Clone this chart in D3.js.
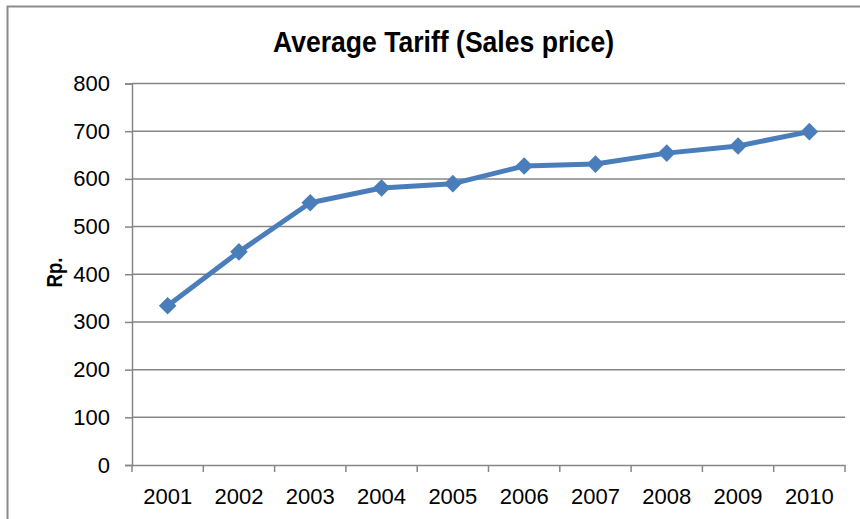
<!DOCTYPE html>
<html><head><meta charset="utf-8">
<script src="https://cdn.jsdelivr.net/npm/d3@7"></script>
<style>html,body{margin:0;padding:0;background:#fff;overflow:hidden}</style>
</head><body>
<svg id="chart" width="860" height="519"></svg>
<script>
const years = ["2001","2002","2003","2004","2005","2006","2007","2008","2009","2010"];
const tariff = [334, 447, 550, 581, 590, 627, 631, 654, 669, 699];
const yTicks = [0,100,200,300,400,500,600,700,800];
const titleText = "Average Tariff (Sales price)";
const yLabel = "Rp.";

const svg = d3.select("#chart");
const W = 860, H = 519;
const m = {left:132, right:15, top:83.5, bottom:54};
const x = d3.scaleBand().domain(years).range([m.left, W - m.right]);
const y = d3.scaleLinear().domain([0,800]).range([H - m.bottom, m.top]);
const font = "'Liberation Sans', Arial, sans-serif";
const gray = "#868686";

svg.append("rect").attr("x",7.5).attr("y",6.5).attr("width",1000).attr("height",1000)
  .attr("fill","none").attr("stroke","#8c8c8c").attr("stroke-width",2);

// gridlines
svg.append("g").selectAll("line").data(yTicks.filter(d=>d>0)).join("line")
  .attr("x1",m.left).attr("x2",W-m.right)
  .attr("y1",d=>y(d)).attr("y2",d=>y(d))
  .attr("stroke",gray).attr("stroke-width",1.5);

// y axis
const ya = svg.append("g").attr("transform",`translate(${m.left},0)`)
  .call(d3.axisLeft(y).tickValues(yTicks).tickSize(7).tickPadding(15));
ya.select(".domain").attr("stroke",gray).attr("stroke-width",1.5);
ya.selectAll(".tick line").attr("stroke",gray).attr("stroke-width",1.5);
ya.selectAll("text").attr("font-family",font).attr("font-size",22).attr("fill","#000");

// x axis
const xa = svg.append("g").attr("transform",`translate(0,${y(0)})`)
  .call(d3.axisBottom(x).tickSize(0).tickPadding(23));
xa.select(".domain").attr("stroke",gray).attr("stroke-width",1.5);
xa.selectAll(".tick line").remove();
xa.selectAll("text").attr("font-family",font).attr("font-size",22).attr("fill","#000");
// boundary tick marks
const bounds = years.map(d=>x(d)).concat([x(years[years.length-1])+x.bandwidth()]);
xa.selectAll("line.bt").data(bounds).join("line").attr("class","bt")
  .attr("x1",d=>d).attr("x2",d=>d).attr("y1",0).attr("y2",7)
  .attr("stroke",gray).attr("stroke-width",1.5);

// line
const cx = d => x(d) + x.bandwidth()/2;
const pts = years.map((d,i)=>[cx(d), y(tariff[i])]);
svg.append("path").attr("d",d3.line()(pts)).attr("fill","none")
  .attr("stroke","#4a7ebb").attr("stroke-width",5).attr("stroke-linejoin","round");
svg.append("g").selectAll("path").data(pts).join("path")
  .attr("d",d3.symbol(d3.symbolSquare, 155)())
  .attr("transform",p=>`translate(${p[0]},${p[1]}) rotate(45)`)
  .attr("fill","#4a7ebb");

// title
svg.append("text").attr("x",443.5).attr("y",51.7).attr("text-anchor","middle")
  .attr("font-family",font).attr("font-weight","bold").attr("font-size",30)
  .attr("textLength",341).attr("lengthAdjust","spacingAndGlyphs").text(titleText);

// y label
svg.append("text").attr("transform","translate(61.5,272.5) rotate(-90)")
  .attr("text-anchor","middle").attr("font-family",font).attr("font-weight","bold")
  .attr("font-size",22).attr("textLength",30).attr("lengthAdjust","spacingAndGlyphs")
  .text(yLabel);
</script>
</body></html>
